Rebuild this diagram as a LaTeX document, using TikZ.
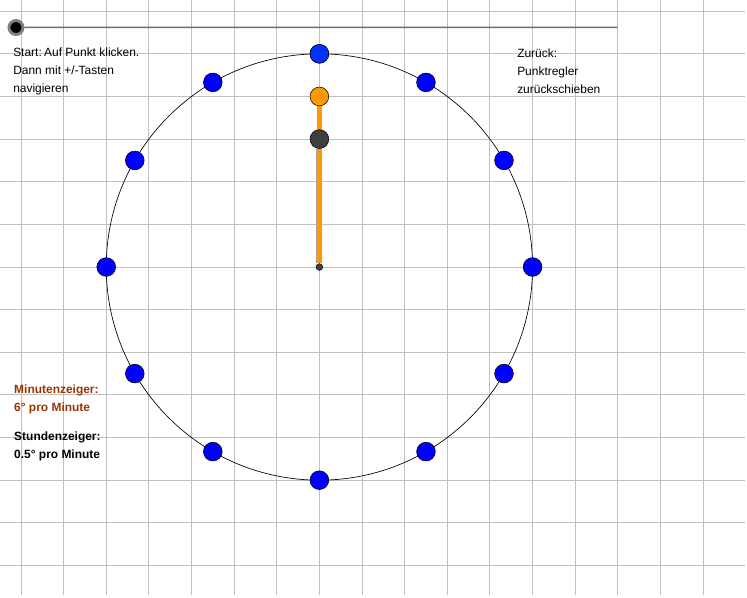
\documentclass[tikz,border=0pt]{standalone}
\usepackage{fontspec}
\setmainfont{Liberation Sans}
\usetikzlibrary{backgrounds}
\definecolor{gridgray}{HTML}{C0C0C0}
\definecolor{handorange}{HTML}{FF9900}
\definecolor{minutebrown}{HTML}{993300}
\definecolor{knobdark}{HTML}{404040}
\tikzset{
	hourdot/.style={circle, draw=black, fill=blue, line width=0.4pt, minimum size=0.44cm*1.128, inner sep=0},
	handdot/.style={circle, draw=black, line width=0.4pt, minimum size=0.44cm*1.128, inner sep=0},
	infotext/.style={anchor=west, align=left, inner sep=0, font=\fontsize{9}{13.5}\selectfont}
}
\begin{document}
\begin{tikzpicture}[scale=1.128]
			\useasboundingbox (-7.492,-7.741) rectangle (10.03,6.263);
			% slider
			\coordinate (sliderend) at (6.99,5.618);
			\node [circle, fill=black, draw=gray, line width=2.2pt, minimum size=0.33cm*1.128, inner sep=0] (knob) at (-7.117,5.618) {};
			% clock
			\node [circle, fill=knobdark, draw=black, line width=0.3pt, minimum size=0.16cm*1.128, inner sep=0] (centre) at (0,0) {};
			\node [handdot, fill=handorange] (minute) at (0,4) {};
			\node [handdot, fill=knobdark] (hour) at (0,3) {};
			\foreach \n in {1,...,12} \node [hourdot] (dot\n) at ({90-30*\n}:5) {};
			\node [hourdot, fill=blue!80!cyan] at (dot12) {};
			\begin{pgfonlayer}{background}
			\foreach \x in {-7,...,9} \draw [gridgray, line width=0.7pt] (\x,6.263) -- (\x,-7.69);
			\foreach \y in {-7,...,6} \draw [gridgray, line width=0.7pt] (-7.492,\y) -- (9.98,\y);
			\draw [line width=0.5pt] (0,0) circle (5);
			\draw [gray!85!black, line width=1.1pt] (knob) -- (sliderend);
			\draw [handorange, line width=3.2pt] (centre) -- (minute);
			\draw [gray!70, line width=4.6pt] (centre) -- (hour);
			\draw [handorange, line width=3.2pt] (centre) -- (hour);
			\end{pgfonlayer}
			\node [infotext] (start) at (-7.187,4.59) {Start:\kern-0.7pt\ Auf Punkt klicken.\\Dann mit +/-Tasten\\navigieren};
			\node [infotext] (back) at (4.635,4.6) {Zurück:\\Punktregler\\zurückschieben};
			\node [infotext, font=\fontsize{9}{13.5}\selectfont\bfseries, text=minutebrown] (minutetext) at (-7.164,-3.096) {Minutenzeiger:\\6° pro Minute};
			\node [infotext, font=\fontsize{9}{13.5}\selectfont\bfseries] (hourtext) at (-7.164,-4.198) {Stundenzeiger:\\0.5° pro Minute};
\end{tikzpicture}
\end{document}
